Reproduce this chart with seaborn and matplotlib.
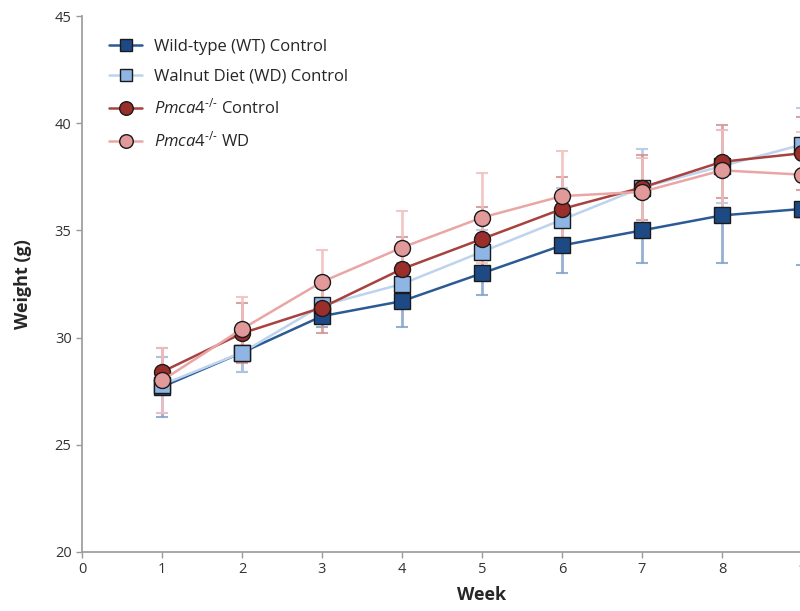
import matplotlib
matplotlib.use('Agg')
import matplotlib.pyplot as plt
import pandas as pd
import seaborn as sns

weeks = [1, 2, 3, 4, 5, 6, 7, 8, 9]

wt_ctrl = [27.7, 29.3, 31.0, 31.7, 33.0, 34.3, 35.0, 35.7, 36.0]
wt_ctrl_err = [1.4, 0.9, 0.5, 1.2, 1.0, 1.3, 1.5, 2.2, 2.6]
wd_ctrl = [27.8, 29.3, 31.5, 32.5, 34.0, 35.5, 37.0, 38.0, 39.0]
wd_ctrl_err = [1.3, 0.9, 0.8, 1.0, 1.0, 1.5, 1.8, 1.7, 1.7]
ko_ctrl = [28.4, 30.2, 31.4, 33.2, 34.6, 36.0, 37.0, 38.2, 38.6]
ko_ctrl_err = [1.1, 1.4, 1.2, 1.5, 1.5, 1.5, 1.5, 1.7, 1.7]
ko_wd = [28.0, 30.4, 32.6, 34.2, 35.6, 36.6, 36.8, 37.8, 37.6]
ko_wd_err = [1.5, 1.5, 1.5, 1.7, 2.1, 2.1, 1.6, 1.9, 2.0]

labels = ['Wild-type (WT) Control', 'Walnut Diet (WD) Control',
          r'$\mathit{Pmca4}^{\text{-/-}}$ Control', r'$\mathit{Pmca4}^{\text{-/-}}$ WD']

series = [
    # values, errors, marker, fill, line, errbar
    (wt_ctrl, wt_ctrl_err, 's', '#1d4a85', '#2c5a94', '#86a2c8'),
    (wd_ctrl, wd_ctrl_err, 's', '#8fb5e4', '#bdd3ee', '#b0c6e2'),
    (ko_ctrl, ko_ctrl_err, 'o', '#9a2e2b', '#a8423f', '#d09493'),
    (ko_wd, ko_wd_err, 'o', '#e19a99', '#e9a6a5', '#f0bfbe'),
]

sns.set_style('white')
plt.rcParams['font.family'] = ['Open Sans', 'DejaVu Sans']
plt.rcParams['mathtext.fontset'] = 'custom'
plt.rcParams['mathtext.it'] = 'Open Sans:italic'
plt.rcParams['mathtext.rm'] = 'Open Sans'

fig = plt.figure(figsize=(8, 6.11), dpi=100)
ax = fig.add_axes([0.1025, 0.0966, 1.0, 0.8772])

for vals, errs, mk, fill, line, ecol in series:
    ax.errorbar(weeks, vals, yerr=errs, fmt='none', ecolor=ecol, elinewidth=2,
                capsize=4, capthick=1.5, alpha=0.85, zorder=1)

for (vals, errs, mk, fill, line, ecol), lab in zip(series, labels):
    df = pd.DataFrame({'week': weeks, 'weight': vals})
    sns.lineplot(data=df, x='week', y='weight', ax=ax, color=line, linewidth=1.8,
                 marker=mk, markersize=11 if mk == 's' else 11.5,
                 markerfacecolor=fill, markeredgecolor='#1a1a1a',
                 markeredgewidth=1.0, label=lab, zorder=3)

ax.set_xlim(0, 10)
ax.set_ylim(20, 45)
ax.set_xticks(range(0, 11))
ax.set_yticks(range(20, 46, 5))
ax.tick_params(axis='both', labelsize=10.5, colors='#999999',
               length=4, width=1, direction='out', left=True, bottom=True)
for lbl in ax.get_xticklabels() + ax.get_yticklabels():
    lbl.set_color('#333333')
for side in ['top', 'right']:
    ax.spines[side].set_visible(False)
for side in ['left', 'bottom']:
    ax.spines[side].set_color('#a0a0a0')
    ax.spines[side].set_linewidth(1.3)

ax.set_xlabel('Week', fontsize=13, fontweight='bold', labelpad=6)
ax.set_ylabel('Weight (g)', fontsize=13, fontweight='bold', labelpad=16)

leg = ax.legend(loc='upper left', bbox_to_anchor=(0.015, 0.985), frameon=False,
                fontsize=12, handlelength=2.0, labelspacing=0.8, handletextpad=0.7,
                markerscale=0.85)

fig.savefig('out.png', dpi=100)
